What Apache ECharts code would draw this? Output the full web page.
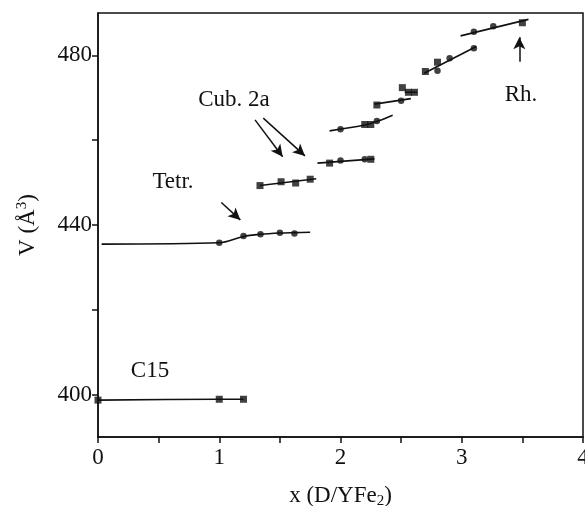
<!DOCTYPE html>
<html>
<head>
<meta charset="utf-8">
<script src="https://cdn.jsdelivr.net/npm/echarts@6/dist/echarts.min.js"></script>
<style>
  html, body { margin: 0; padding: 0; background: #fff; }
  #chart { width: 585px; height: 506px; }
</style>
</head>
<body>
<div id="chart"></div>
<script>
// tick values
var xTicks = [0, 0.5, 1, 1.5, 2, 2.5, 3, 3.5, 4];
var xLabels = [0, 1, 2, 3, 4];
var yTicks = [400, 420, 440, 460, 480];
var yLabels = [400, 440, 480];

// measured points, squares and circles
var squarePts = [
    [0, 398.7], [1.0, 398.9], [1.2, 398.9],
    [1.336, 449.3], [1.51, 450.2], [1.63, 449.9], [1.75, 450.8],
    [1.91, 454.6], [2.25, 455.5],
    [2.2, 463.7], [2.25, 463.7],
    [2.30, 468.3],
    [2.51, 472.4], [2.56, 471.3], [2.61, 471.3],
    [2.70, 476.2], [2.80, 478.4],
    [3.50, 487.7]
];
var circlePts = [
    [1.0, 435.8], [1.2, 437.4], [1.34, 437.8], [1.5, 438.2], [1.62, 438.0],
    [2.0, 455.2], [2.2, 455.5],
    [2.0, 462.6], [2.30, 464.5],
    [2.50, 469.3],
    [2.80, 476.4], [2.90, 479.3], [3.10, 481.7],
    [3.10, 485.6], [3.26, 486.9]
];

// fitted lines through each branch
var fitC15 = [[0, 398.7], [1.0, 398.9], [1.2, 398.9]];
var fitTetr = [[0.03, 435.5], [1.0, 435.8], [1.2, 437.3], [1.34, 437.8], [1.5, 438.1], [1.62, 438.2], [1.75, 438.3]];
var fitCub1 = [[1.336, 449.3], [1.8, 450.9]];
var fitCub2 = [[1.81, 454.6], [2.28, 455.6]];
var fitB3 = [[1.91, 462.2], [2.2, 463.6], [2.3, 464.4], [2.43, 465.9]];
var fitB4 = [[2.28, 468.5], [2.58, 469.8]];
var fitB5 = [[2.53, 471.3], [2.63, 471.3]];
var fitB6 = [[2.69, 475.8], [3.12, 482.1]];
var fitRh = [[2.99, 484.6], [3.55, 488.5]];

// annotation arrows (data coords)
var arrows = [
    [[1.017, 445.3], [1.174, 441.2]],
    [[1.295, 464.8], [1.523, 456.1]],
    [[1.363, 465.2], [1.707, 456.3]],
    [[3.475, 478.5], [3.475, 484.3]]
];

var serif = '"Liberation Serif", "DejaVu Serif", serif';
var ink = '#111';

var fits = [fitC15, fitTetr, fitCub1, fitCub2, fitB3, fitB4, fitB5, fitB6, fitRh];
var series = fits.map(function (d) {
    return {
        type: 'line',
        data: d,
        smooth: d.length > 2 ? 0.3 : false,
        showSymbol: false,
        symbol: 'none',
        silent: true,
        lineStyle: { color: ink, width: 1.6 }
    };
});
series.push({
    type: 'scatter',
    data: squarePts,
    symbol: 'rect',
    symbolSize: 7,
    itemStyle: { color: ink },
    markLine: {
        silent: true,
        symbol: ['none', 'arrow'],
        symbolSize: [9, 12],
        label: { show: false },
        lineStyle: { color: ink, width: 1.5, type: 'solid' },
        data: arrows.map(function (a) {
            return [{ coord: a[0] }, { coord: a[1] }];
        })
    }
});
series.push({
    type: 'scatter',
    data: circlePts,
    symbol: 'circle',
    symbolSize: 6.5,
    itemStyle: { color: ink }
});

function note(text, x, y) {
    return {
        type: 'text',
        x: x,
        y: y,
        style: {
            text: text,
            fill: ink,
            font: '23px ' + serif,
            align: 'center',
            verticalAlign: 'middle'
        }
    };
}

var myChart = echarts.init(document.getElementById('chart'));
myChart.setOption({
    animation: false,
    grid: {
        left: 98, right: 2, top: 13, bottom: 69,
        outerBoundsMode: 'none',
        containLabel: false,
        show: true, borderColor: ink, borderWidth: 1.5
    },
    xAxis: {
        type: 'value',
        min: 0,
        max: 4,
        name: 'x (D/YFe{sub|2})',
        nameLocation: 'middle',
        nameGap: 45,
        nameTextStyle: {
            fontFamily: serif, fontSize: 23, color: ink,
            rich: { sub: { fontFamily: serif, fontSize: 15, color: ink, verticalAlign: 'bottom', padding: [12, 0, 0, 0] } }
        },
        axisLine: { onZero: false, lineStyle: { color: ink, width: 1.5 } },
        axisTick: { customValues: xTicks, length: 6, lineStyle: { color: ink, width: 1.5 } },
        axisLabel: { customValues: xLabels, fontFamily: serif, fontSize: 23, color: ink, margin: 9 },
        splitLine: { show: false }
    },
    yAxis: {
        type: 'value',
        min: 390,
        max: 490,
        name: 'V (Å{sup|3})',
        nameLocation: 'middle',
        nameGap: 58,
        nameTextStyle: {
            fontFamily: serif, fontSize: 23, color: ink,
            rich: { sup: { fontFamily: serif, fontSize: 15, color: ink, padding: [0, 0, 10, 0] } }
        },
        axisLine: { onZero: false, lineStyle: { color: ink, width: 1.5 } },
        axisTick: { customValues: yTicks, length: 6, lineStyle: { color: ink, width: 1.5 } },
        axisLabel: { customValues: yLabels, fontFamily: serif, fontSize: 23, color: ink, margin: 6 },
        splitLine: { show: false }
    },
    graphic: [
        note('C15', 150, 371),
        note('Tetr.', 173, 182),
        note('Cub. 2a', 234, 100),
        note('Rh.', 521, 95)
    ],
    series: series
});
</script>
</body>
</html>
